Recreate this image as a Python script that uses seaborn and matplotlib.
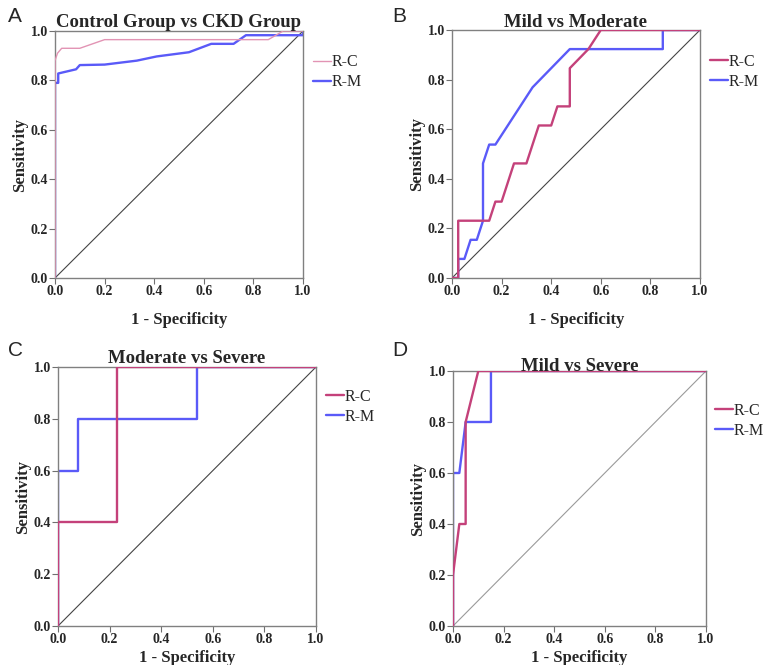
import matplotlib
matplotlib.use("Agg")
import matplotlib.pyplot as plt
import seaborn as sns
import pandas as pd

sns.set_theme(style="white")
plt.rcParams['font.family'] = ['Liberation Serif', 'DejaVu Serif']

# ---- data ----
titles = ["Control Group vs CKD Group", "Mild vs Moderate", "Moderate vs Severe", "Mild vs Severe"]
panel_letters = ["A", "B", "C", "D"]
series_names = ["R-C", "R-M"]

a_rc_x = [0, 0, 0.01, 0.027, 0.10, 0.20, 0.86, 0.92, 1.0]
a_rc_y = [0, 0.88, 0.91, 0.93, 0.93, 0.965, 0.965, 1.0, 1.0]
a_rm_x = [0, 0, 0.013, 0.013, 0.085, 0.10, 0.20, 0.33, 0.41, 0.54, 0.63, 0.72, 0.77, 1.0, 1.0]
a_rm_y = [0, 0.79, 0.79, 0.828, 0.845, 0.862, 0.864, 0.88, 0.897, 0.914, 0.948, 0.948, 0.983, 0.983, 1.0]

b_rc_x = [0, 0.025, 0.025, 0.15, 0.175, 0.20, 0.25, 0.30, 0.35, 0.40, 0.425, 0.475, 0.475, 0.55, 0.60, 1.0]
b_rc_y = [0, 0, 0.231, 0.231, 0.308, 0.308, 0.462, 0.462, 0.615, 0.615, 0.692, 0.692, 0.846, 0.923, 1.0, 1.0]
b_rm_x = [0, 0.025, 0.025, 0.05, 0.075, 0.10, 0.125, 0.125, 0.15, 0.175, 0.325, 0.475, 0.85, 0.85, 1.0]
b_rm_y = [0, 0, 0.077, 0.077, 0.154, 0.154, 0.231, 0.462, 0.538, 0.538, 0.769, 0.923, 0.923, 1.0, 1.0]

c_rc_x = [0, 0, 0.23, 0.23, 1.0]
c_rc_y = [0, 0.4, 0.4, 1.0, 1.0]
c_rm_x = [0, 0, 0.077, 0.077, 0.54, 0.54, 1.0]
c_rm_y = [0, 0.6, 0.6, 0.8, 0.8, 1.0, 1.0]

d_rc_x = [0, 0, 0.025, 0.05, 0.05, 0.10, 1.0]
d_rc_y = [0, 0.2, 0.4, 0.4, 0.8, 1.0, 1.0]
d_rm_x = [0, 0, 0.025, 0.05, 0.15, 0.15, 1.0]
d_rm_y = [0, 0.6, 0.6, 0.8, 0.8, 1.0, 1.0]

ticks = [0.0, 0.2, 0.4, 0.6, 0.8, 1.0]
tick_labels = ["0.0", "0.2", "0.4", "0.6", "0.8", "1.0"]

panels = [
    (a_rc_x, a_rc_y, a_rm_x, a_rm_y),
    (b_rc_x, b_rc_y, b_rm_x, b_rm_y),
    (c_rc_x, c_rc_y, c_rm_x, c_rm_y),
    (d_rc_x, d_rc_y, d_rm_x, d_rm_y),
]

W, H = 766, 665
fig = plt.figure(figsize=(W / 100, H / 100), dpi=100)

# axes boxes in pixels: (x0, y0_top, x1, y1_bottom)
boxes = [(55, 31, 303, 278), (452, 30, 700, 278), (58, 367, 316, 626), (453, 371, 706, 626)]
letter_pos = [(8, 17), (392, 17), (8, 351), (392, 351)]
rc_colors = ["#E294B4", "#C4417A", "#C4417A", "#C4417A"]
rc_widths = [1.0, 1.7, 1.7, 1.7]
diag_colors = ["#444444", "#444444", "#444444", "#9a9a9a"]
xlabel_pads = [10, 10, 3, 3]
title_pads = [3, 2, 3, 0]
legend_anchor = [(1.0, 0.947), (1.0, 0.947), (1.0, 0.955), (0.995, 0.915)]

for i, (rcx, rcy, rmx, rmy) in enumerate(panels):
    x0, yt, x1, yb = boxes[i]
    ax = fig.add_axes([x0 / W, 1 - yb / H, (x1 - x0) / W, (yb - yt) / H])
    df = pd.DataFrame({
        "x": list(rcx) + list(rmx),
        "y": list(rcy) + list(rmy),
        "series": [series_names[0]] * len(rcx) + [series_names[1]] * len(rmx),
    })
    ax.plot([0, 1], [0, 1], color=diag_colors[i], lw=0.8, zorder=1)
    sns.lineplot(data=df[df.series == "R-C"], x="x", y="y", sort=False, estimator=None,
                 color=rc_colors[i], lw=rc_widths[i], ax=ax, label="R-C", zorder=3)
    sns.lineplot(data=df[df.series == "R-M"], x="x", y="y", sort=False, estimator=None,
                 color="#5A5AF8", lw=1.7, ax=ax, label="R-M", zorder=2)
    ax.set_xlim(0, 1)
    ax.set_ylim(0, 1)
    ax.set_xticks(ticks)
    ax.set_yticks(ticks)
    ax.set_xticklabels(tick_labels, fontweight="bold", fontsize=10)
    ax.set_yticklabels(tick_labels, fontweight="bold", fontsize=10)
    ax.tick_params(axis="both", direction="out", length=4, width=0.8, color="#707070", pad=1,
                   bottom=True, left=True)
    for s in ax.spines.values():
        s.set_color("#808080")
        s.set_linewidth(1.0)
    ax.set_xlabel("1 - Specificity", fontweight="bold", fontsize=12, labelpad=xlabel_pads[i])
    ax.set_ylabel("Sensitivity", fontweight="bold", fontsize=12, labelpad=2)
    ax.set_title(titles[i], fontweight="bold", fontsize=13.5, pad=title_pads[i])
    leg = ax.legend(loc="upper left", bbox_to_anchor=legend_anchor[i], frameon=False,
                    handlelength=1.1, handletextpad=0.05, fontsize=11.5, borderaxespad=0.25,
                    labelspacing=0.25)
    fig.text(letter_pos[i][0] / W, 1 - letter_pos[i][1] / H, panel_letters[i],
             fontsize=15, family=["Liberation Sans", "DejaVu Sans"], va="center", ha="left")

fig.savefig("out.png", dpi=100)
